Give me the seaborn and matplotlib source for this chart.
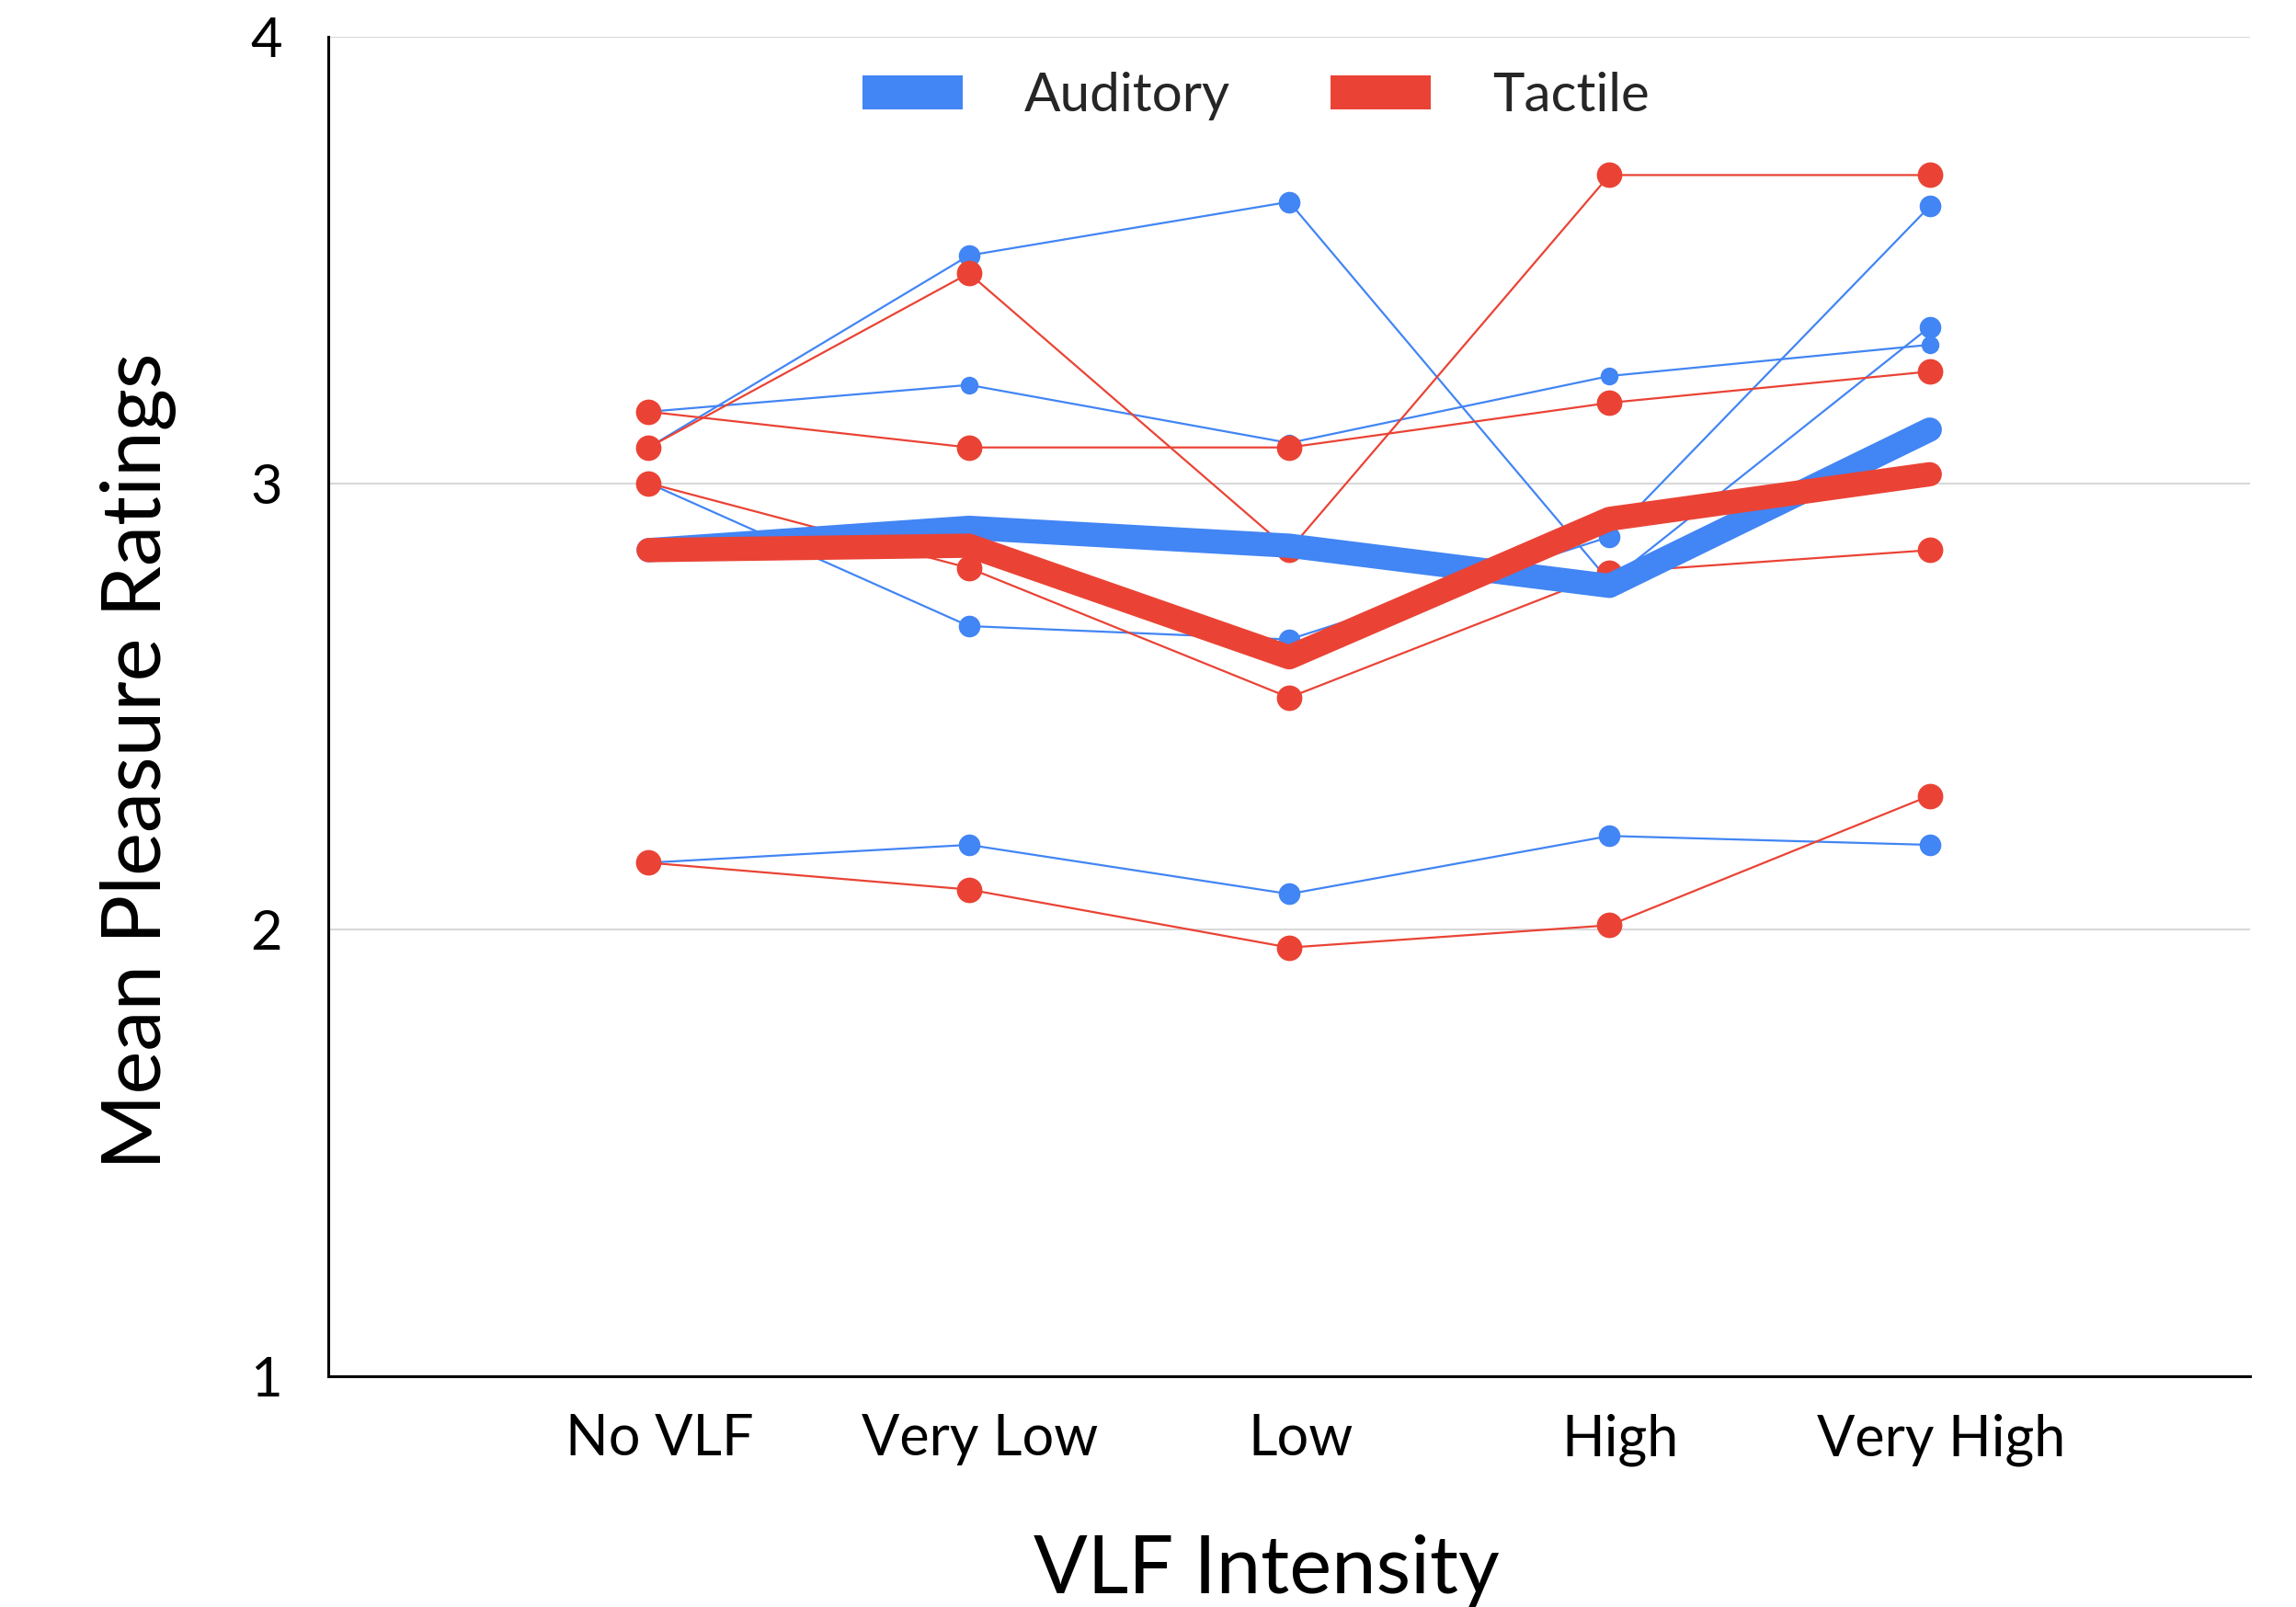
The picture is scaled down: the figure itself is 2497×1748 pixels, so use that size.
import numpy as np
import pandas as pd
import matplotlib
matplotlib.use("Agg")
import matplotlib.pyplot as plt
import matplotlib.transforms as mtransforms
from matplotlib.patches import Patch
import seaborn as sns

# ---------------- data ----------------
categories = ["No VLF", "Very Low", "Low", "High", "Very High"]

aud_1 = [3.08, 3.51, 3.63, 2.78, 3.35]
aud_2 = [3.16, 3.22, 3.09, 3.24, 3.31]
aud_3 = [3.00, 2.68, 2.65, 2.88, 3.62]
aud_4 = [2.15, 2.19, 2.08, 2.21, 2.19]
aud_mean = [2.85, 2.90, 2.86, 2.77, 3.12]

tac_1 = [3.08, 3.47, 2.85, 3.69, 3.69]
tac_2 = [3.16, 3.08, 3.08, 3.18, 3.25]
tac_3 = [3.00, 2.81, 2.52, 2.80, 2.85]
tac_4 = [2.15, 2.09, 1.96, 2.01, 2.30]
tac_mean = [2.85, 2.86, 2.61, 2.92, 3.02]

series_names = ["Auditory", "Tactile"]
y_ticks = [1, 2, 3, 4]

# ---------------- style ----------------
BLUE = "#4285F4"
RED = "#EA4335"

sns.set_style("white")
plt.rcParams["font.family"] = ["Lato", "DejaVu Sans"]

fig = plt.figure(figsize=(24.97, 17.48), dpi=100)
ax = fig.add_axes([0.143, 0.1436, 0.837, 0.8336])

pos = np.arange(len(categories))

def draw(vals, color, lw, ms, z, mean=False):
    df = pd.DataFrame({"x": pos, "y": vals})
    kw = dict(x="x", y="y", data=df, ax=ax, color=color, linewidth=lw,
              sort=False, zorder=z, legend=False)
    if mean:
        kw.update(solid_capstyle="round", solid_joinstyle="round")
    else:
        kw.update(marker="o", markersize=ms, markeredgewidth=0)
    sns.lineplot(**kw)

# thin participant lines
draw(aud_1, BLUE, 1.6, 17, 2)
draw(aud_2, BLUE, 1.6, 14, 2)
draw(aud_3, BLUE, 1.6, 17, 2)
draw(aud_4, BLUE, 1.6, 17, 2)
draw(tac_1, RED, 1.6, 20, 2.5)
draw(tac_2, RED, 1.6, 20, 2.5)
draw(tac_3, RED, 1.6, 20, 2.5)
draw(tac_4, RED, 1.6, 20, 2.5)
# thick means
draw(aud_mean, BLUE, 19, 0, 3, mean=True)
draw(tac_mean, RED, 19, 0, 4, mean=True)

# ---------------- axes ----------------
ax.set_xlim(-1, 5)
ax.set_ylim(1, 4)
ax.set_xticks(pos)
ax.set_xticklabels(categories)
ax.set_yticks(y_ticks)
ax.set_yticklabels([str(v) for v in y_ticks])
ax.tick_params(axis="x", length=0, pad=29, labelsize=44, colors="black")
ax.tick_params(axis="y", length=0, pad=36, labelsize=43, colors="black")

offset = mtransforms.ScaledTranslation(12 / 100, 0, fig.dpi_scale_trans)
for lbl in ax.get_xticklabels():
    lbl.set_transform(lbl.get_transform() + offset)

ax.grid(axis="y", color="#d9d9d9", linewidth=1.5, zorder=0)
ax.grid(axis="x", visible=False)
ax.set_axisbelow(True)

for s in ["top", "right"]:
    ax.spines[s].set_visible(False)
for s in ["left", "bottom"]:
    ax.spines[s].set_color("black")
    ax.spines[s].set_linewidth(2.2)
    ax.spines[s].set_zorder(5)

ax.set_xlabel("VLF Intensity", fontsize=62.5, color="black")
ax.xaxis.set_label_coords(0.488, -0.118)
ax.set_ylabel("Mean Pleasure Ratings", fontsize=64, color="black", va="center")
ax.yaxis.set_label_coords(-0.099, 0.459)

handles = [Patch(facecolor=BLUE, edgecolor="none"),
           Patch(facecolor=RED, edgecolor="none")]
fig.legend(handles, series_names, loc="center", bbox_to_anchor=(0.547, 0.940),
           ncol=2, frameon=False, fontsize=42, handlelength=1.86,
           handleheight=0.6, handletextpad=1.15, columnspacing=1.88,
           borderpad=0)

fig.savefig("out.png", dpi=100)
